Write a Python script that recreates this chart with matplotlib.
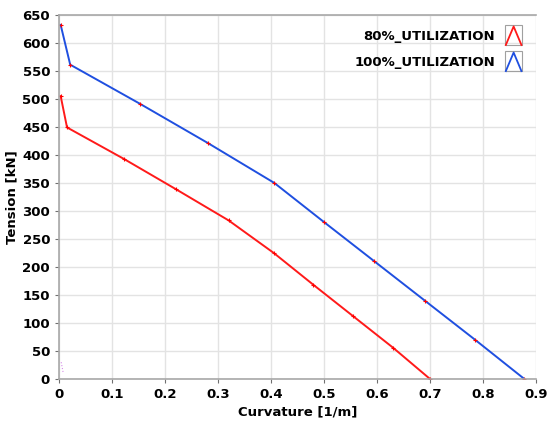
import matplotlib
matplotlib.use('Agg')
import matplotlib.pyplot as plt
from matplotlib.legend_handler import HandlerBase
from matplotlib.lines import Line2D
from matplotlib.patches import Rectangle

# data
curv_80 = [0.003, 0.015, 0.122, 0.220, 0.320, 0.405, 0.480, 0.555, 0.630, 0.700]
tens_80 = [505, 449, 393, 339, 283, 225, 168, 112, 56, 0]
curv_100 = [0.003, 0.021, 0.153, 0.281, 0.406, 0.500, 0.595, 0.690, 0.785, 0.878]
tens_100 = [632, 561, 491, 421, 350, 280, 210, 140, 70, 0]
stray_x = [0.004, 0.008]
stray_y = [30, 10]
labels = ['80%_UTILIZATION', '100%_UTILIZATION']
colors = ['#ff1a1a', '#1f4fe0']


class ChevronHandler(HandlerBase):
  def create_artists(self, legend, orig_handle, xdescent, ydescent,
                     width, height, fontsize, trans):
    box = Rectangle((xdescent + width * 0.1, -ydescent - height * 0.25),
                    width * 0.8, height * 1.5, fill=False,
                    edgecolor='#a0a0a0', lw=0.8, transform=trans)
    xs = [xdescent + width * 0.13, xdescent + width * 0.5, xdescent + width * 0.87]
    ys = [-ydescent - height * 0.22, -ydescent + height * 1.15, -ydescent - height * 0.22]
    ln = Line2D(xs, ys, color=orig_handle.get_color(), lw=1.3, transform=trans)
    return [box, ln]


plt.rcParams['font.family'] = ['DejaVu Sans']
fig = plt.figure(figsize=(5.47, 4.23), dpi=100)
ax = fig.add_axes([0.108, 0.104, 0.872, 0.861])

h1, = ax.plot(curv_80, tens_80, color=colors[0], lw=1.4)
h2, = ax.plot(curv_100, tens_100, color=colors[1], lw=1.4)
ax.plot(curv_80, tens_80, '+', color='red', ms=3, mew=0.8)
ax.plot(curv_100, tens_100, '+', color='red', ms=3, mew=0.8)
ax.plot(stray_x, stray_y, color='#d58ae8', lw=0.8, ls=':')

ax.set_xlim(0, 0.9)
ax.set_ylim(0, 650)
ax.set_xticks([i / 10 for i in range(10)])
ax.set_xticklabels(['0'] + ['%.1f' % (i / 10) for i in range(1, 10)])
ax.set_yticks(range(0, 651, 50))
ax.grid(True, color='#e3e3e3', lw=1)
ax.set_axisbelow(True)
for s in ['left', 'bottom', 'top']:
  ax.spines[s].set_color('#a8a8a8')
  ax.spines[s].set_linewidth(1.2)
ax.spines['right'].set_visible(False)
ax.tick_params(colors='#707070', length=3, labelcolor='black', labelsize=9.5)
for t in ax.get_xticklabels() + ax.get_yticklabels():
  t.set_fontweight('bold')

ax.set_xlabel('Curvature [1/m]', fontsize=9.5, fontweight='bold', labelpad=3)
ax.set_ylabel('Tension [kN]', fontsize=9.5, fontweight='bold', labelpad=3)

ax.legend([h1, h2], labels, handler_map={Line2D: ChevronHandler()},
          loc='upper right', bbox_to_anchor=(1.0, 0.995), frameon=False,
          markerfirst=False, prop={'weight': 'bold', 'size': 9.5},
          handlelength=1.6, handleheight=1.2, handletextpad=0.6, labelspacing=0.9)

fig.savefig('out.png', dpi=100)
